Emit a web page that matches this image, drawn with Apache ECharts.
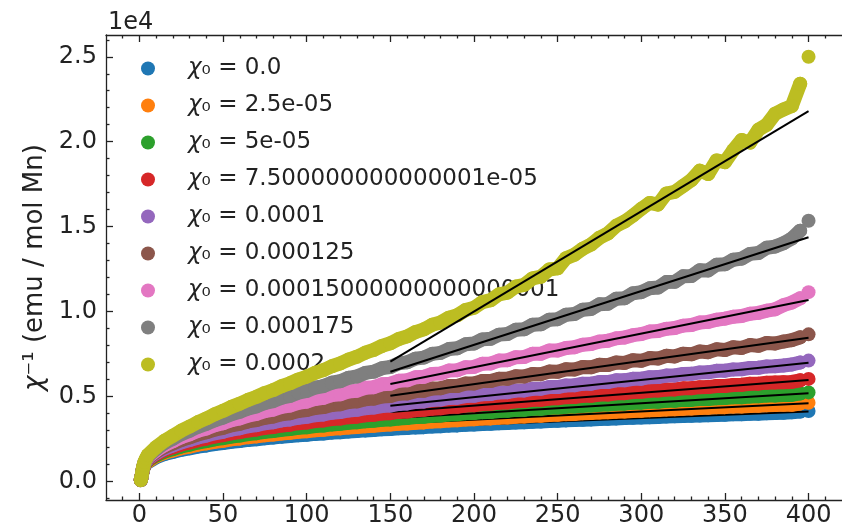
<!DOCTYPE html>
<html><head><meta charset="utf-8">
<script src="https://cdn.jsdelivr.net/npm/echarts@6/dist/echarts.min.js"></script>
<style>html,body{margin:0;padding:0;background:#fff}#c{width:842px;height:531px}</style>
</head><body><div id="c"></div>
<script>
// Temperature (K)
const temps = [0.8,1.2,1.6,2,2.5,3,4,
 5,10,15,20,25,30,35,40,45,50,55,60,65,70,75,80,85,90,95,100,
 105,110,115,120,125,130,135,140,145,150,155,160,165,170,175,180,185,190,195,200,
 205,210,215,220,225,230,235,240,245,250,255,260,265,270,275,280,285,290,295,300,
 305,310,315,320,325,330,335,340,345,350,355,360,365,370,375,380,385,390,395,400];

const chi0Labels = ['0.0','2.5e-05','5e-05','7.500000000000001e-05','0.0001','0.000125','0.00015000000000000001','0.000175','0.0002'];
const colors = ['#1f77b4','#ff7f0e','#2ca02c','#d62728','#9467bd','#8c564b','#e377c2','#7f7f7f','#bcbd22'];

const invChi_0 = [90,250,470,660,820,940,1080,
 1188,1440,1628,1750,1878,1962,2063,2130,2215,2270,
 2343,2390,2455,2496,2556,2592,2648,2680,2731,2760,
 2810,2836,2884,2905,2951,2973,3016,3036,3078,3095,
 3135,3152,3192,3207,3245,3258,3296,3310,3346,3357,
 3392,3405,3438,3450,3482,3494,3525,3536,3568,3584,
 3605,3628,3644,3663,3684,3702,3720,3738,3760,3772,
 3793,3808,3828,3842,3862,3875,3895,3908,3928,3940,
 3960,3972,3990,4002,4022,4032,4052,4080,4120,4160];
const invChi_1 = [90,252,476,671,837,963,1110,
 1224,1494,1695,1832,1970,2065,2176,2250,2344,2406,
 2489,2542,2616,2662,2730,2771,2836,2873,2933,2966,
 3023,3052,3107,3134,3186,3212,3262,3286,3334,3355,
 3401,3421,3468,3487,3532,3548,3592,3608,3651,3666,
 3710,3722,3765,3776,3820,3830,3872,3880,3925,3932,
 3972,3984,4022,4032,4070,4080,4118,4128,4162,4172,
 4205,4215,4250,4258,4292,4300,4334,4342,4374,4384,
 4414,4424,4454,4462,4492,4504,4519,4525,4593,4643];
const invChi_2 = [91,253,481,682,855,986,1141,
 1263,1552,1770,1920,2071,2178,2300,2385,2490,2560,
 2653,2714,2799,2852,2930,2977,3052,3095,3165,3203,
 3270,3304,3368,3400,3461,3492,3552,3580,3636,3661,
 3718,3740,3798,3818,3875,3892,3948,3962,4020,4034,
 4090,4100,4157,4166,4222,4230,4287,4292,4350,4356,
 4410,4418,4470,4476,4528,4533,4588,4590,4644,4648,
 4698,4704,4755,4758,4810,4810,4862,4864,4912,4918,
 4962,4968,5012,5018,5062,5070,5094,5104,5189,5252];
const invChi_3 = [91,255,487,694,873,1011,1174,
 1304,1615,1852,2018,2184,2303,2440,2536,2655,2735,
 2843,2912,3010,3070,3163,3216,3305,3352,3438,3480,
 3563,3600,3680,3714,3792,3824,3902,3930,4004,4030,
 4102,4128,4200,4225,4295,4316,4388,4404,4476,4492,
 4562,4578,4648,4660,4730,4742,4812,4820,4894,4900,
 4972,4978,5050,5052,5126,5130,5202,5205,5276,5282,
 5346,5356,5420,5426,5490,5494,5558,5564,5626,5632,
 5690,5698,5760,5766,5826,5838,5852,5870,5962,6046];
const invChi_4 = [91,256,492,706,892,1037,1209,
 1348,1682,1942,2125,2310,2444,2600,2708,2844,2936,
 3060,3140,3256,3325,3435,3496,3604,3660,3762,3812,
 3912,3955,4054,4094,4190,4228,4324,4356,4450,4478,
 4572,4598,4692,4718,4810,4830,4924,4940,5036,5052,
 5145,5158,5252,5262,5358,5364,5462,5466,5566,5566,
 5664,5668,5764,5764,5860,5862,5960,5960,6054,6058,
 6146,6156,6244,6250,6336,6342,6428,6434,6518,6528,
 6605,6614,6694,6700,6780,6792,6835,6892,7007,7123];
const invChi_5 = [92,258,498,719,912,1065,1246,
 1395,1756,2040,2244,2452,2602,2780,2902,3062,3166,
 3314,3405,3545,3624,3758,3830,3962,4024,4154,4210,
 4338,4386,4514,4556,4684,4722,4852,4884,5012,5040,
 5170,5192,5326,5344,5478,5490,5626,5632,5772,5778,
 5916,5918,6058,6056,6196,6192,6334,6326,6474,6460,
 6610,6594,6745,6724,6876,6856,7012,6984,7145,7110,
 7270,7240,7405,7366,7530,7492,7660,7618,7786,7742,
 7910,7866,8038,7990,8160,8130,8244,8326,8495,8666];
const invChi_6 = [92,260,504,731,933,1093,1285,
 1446,1838,2150,2378,2612,2784,2990,3130,3318,3440,
 3616,3722,3890,3986,4150,4236,4398,4476,4636,4706,
 4866,4928,5090,5142,5306,5352,5522,5560,5730,5762,
 5936,5960,6140,6166,6340,6360,6540,6556,6736,6752,
 6935,6950,7130,7140,7325,7330,7520,7522,7720,7716,
 7860,7910,8060,8100,8240,8290,8430,8480,8620,8680,
 8830,8860,8990,9040,9180,9220,9360,9400,9530,9590,
 9700,9750,9880,9930,10060,10140,10384,10537,10785,11150];
const invChi_7 = [92,261,510,745,955,1123,1326,
 1500,1925,2270,2528,2795,2992,3228,3398,3612,3766,
 3970,4108,4304,4430,4625,4740,4936,5046,5238,5340,
 5534,5626,5822,5910,6106,6190,6396,6470,6676,6745,
 6956,7020,7236,7300,7520,7575,7800,7850,8085,8130,
 8370,8410,8650,8690,8940,8970,9230,9260,9530,9560,
 9820,9860,10120,10160,10440,10460,10760,10790,11080,11150,
 11380,11420,11740,11760,12080,12100,12440,12430,12760,12790,
 13060,13120,13400,13450,13760,13830,14025,14306,14767,15350];
const invChi_8 = [92,263,517,758,978,1155,1370,
 1558,2028,2405,2700,3000,3240,3505,3720,3965,4165,
 4400,4590,4812,4995,5215,5392,5615,5790,6010,6180,
 6400,6565,6790,6955,7180,7350,7585,7750,7985,8140,
 8390,8545,8800,8960,9230,9370,9650,9790,10100,10230,
 10560,10680,11020,11120,11480,11580,11960,12060,12480,12550,
 13150,13350,13700,13950,14350,14600,15050,15300,15650,16050,
 16400,16300,16950,17050,17400,17750,18300,18100,18900,18800,
 19500,20100,19950,20700,21000,21650,21900,22100,23408,25000];

// Linear fits (150 K to 400 K)
const fitT = [150, 400];
const fitStart = [3160, 3410, 3730, 4100, 4470, 5060, 5750, 6470, 7060];
const fitEnd = [4130, 4610, 5200, 5980, 7000, 8470, 10690, 14380, 21800];

// Ticks
const xMajorTicks = [0,50,100,150,200,250,300,350,400];
const xMinorTicks = [-10,10,20,30,40,60,70,80,90,110,120,130,140,160,170,180,190,210,220,230,240,260,270,280,290,310,320,330,340,360,370,380,390,410];
const yMajorTicks = [0,5000,10000,15000,20000,25000];
const yMinorTicks = [-1000,1000,2000,3000,4000,6000,7000,8000,9000,11000,12000,13000,14000,16000,17000,18000,19000,21000,22000,23000,24000,26000];

const allVals = [invChi_0,invChi_1,invChi_2,invChi_3,invChi_4,invChi_5,invChi_6,invChi_7,invChi_8];
const names = chi0Labels.map(l => 'χ₀ = ' + l);

const FONT = 'DejaVu Sans';
const TXT = '#222';
const AX = '#222';
const MS = 14; // marker diameter

const series = [];
allVals.forEach((vals, i) => {
  const pts = temps.map((t, j) => [t, vals[j]]);
  // the densely measured points merge into a band: draw it through the same points (final outlier left as a lone marker)
  series.push({
    type: 'line', data: pts.slice(0, pts.length - 1), symbol: 'none',
    lineStyle: { color: colors[i], width: MS, cap: 'round', join: 'round' },
    z: 2 + 3 * i, silent: true
  });
  series.push({
    type: 'scatter', name: names[i], data: pts,
    symbol: 'circle', symbolSize: MS,
    itemStyle: { color: colors[i], opacity: 1 },
    z: 3 + 3 * i, silent: true
  });
  series.push({
    type: 'line',
    data: [[fitT[0], fitStart[i]], [fitT[1], fitEnd[i]]],
    symbol: 'none',
    lineStyle: { color: '#000', width: 2 },
    z: 4 + 3 * i, silent: true
  });
});

function xAx(pos, ticks, len, showLine, labels) {
  return {
    type: 'value', min: -20, max: 420, position: pos,
    axisLine: { show: showLine, onZero: false, lineStyle: { color: AX, width: 1.3 } },
    axisTick: { show: true, inside: true, length: len, customValues: ticks, lineStyle: { color: AX, width: 1.3 } },
    axisLabel: labels ? { show: true, customValues: ticks, margin: 4, fontSize: 24, color: TXT, fontFamily: FONT } : { show: false },
    splitLine: { show: false }
  };
}
function yAx(ticks, len, labels) {
  const a = {
    type: 'value', min: -1080, max: 26280, position: 'left',
    axisLine: { show: labels, onZero: false, lineStyle: { color: AX, width: 1.3 } },
    axisTick: { show: true, inside: true, length: len, customValues: ticks, lineStyle: { color: AX, width: 1.3 } },
    axisLabel: labels ? { show: true, customValues: ticks, margin: 9, fontSize: 24, color: TXT, fontFamily: FONT,
      formatter: v => (v / 1e4).toFixed(1) } : { show: false },
    splitLine: { show: false }
  };
  if (labels) {
    a.name = '{i|χ}{n|⁻¹ (emu / mol Mn)}';
    a.nameLocation = 'middle';
    a.nameRotate = 90;
    a.nameGap = 57;
    a.nameTextStyle = { fontSize: 26, color: TXT, fontFamily: FONT,
      rich: { i: { fontSize: 26, fontStyle: 'italic', fontFamily: FONT, color: TXT },
              n: { fontSize: 26, fontFamily: FONT, color: TXT } } };
  }
  return a;
}

const chart = echarts.init(document.getElementById('c'), null, { renderer: 'canvas' });
chart.setOption({
  animation: false,
  backgroundColor: '#fff',
  grid: { left: 106, top: 35, right: 0, bottom: 31, containLabel: false },
  xAxis: [
    xAx('bottom', xMajorTicks, 7, true, true),
    xAx('bottom', xMinorTicks, 3.5, false, false),
    xAx('top', xMajorTicks, 7, true, false),
    xAx('top', xMinorTicks, 3.5, false, false)
  ],
  yAxis: [ yAx(yMajorTicks, 7, true), yAx(yMinorTicks, 3.5, false) ],
  legend: {
    orient: 'vertical', left: 141, top: 57, padding: 0,
    itemWidth: 70, itemHeight: 14, itemGap: 14, icon: 'circle',
    selectedMode: false, data: names,
    formatter: n => n.replace('χ', '{i|χ}'),
    textStyle: { fontSize: 23, lineHeight: 22, color: TXT, fontFamily: FONT,
      rich: { i: { fontSize: 23, lineHeight: 22, fontStyle: 'italic', fontFamily: FONT, color: TXT } } }
  },
  graphic: [{ type: 'text', left: 108, top: 11, style: { text: '1e4', fontSize: 24, fill: TXT, fontFamily: FONT } }],
  series: series
});
</script>
</body></html>
